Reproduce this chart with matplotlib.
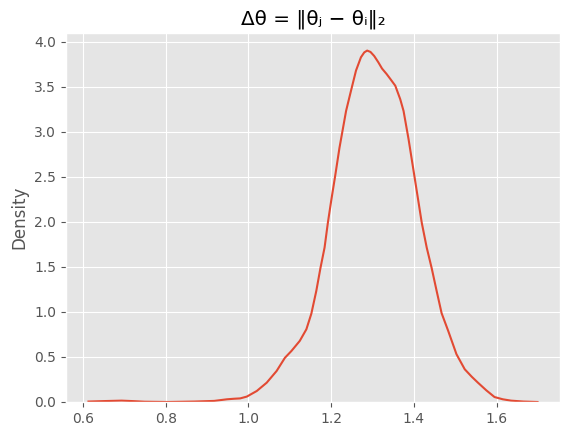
import matplotlib
matplotlib.use("Agg")
import matplotlib.pyplot as plt

# density curve (x = delta theta, y = density)
x_vals = [0.613, 0.65, 0.693, 0.72, 0.749, 0.805, 0.869, 0.917, 0.948, 0.965,
          0.980, 0.996, 1.020, 1.044, 1.068, 1.088, 1.104, 1.124, 1.140, 1.152,
          1.164, 1.174, 1.184, 1.192, 1.200, 1.210, 1.220, 1.236, 1.248, 1.260,
          1.272, 1.280, 1.287, 1.295, 1.304, 1.314, 1.323, 1.334, 1.343, 1.355,
          1.367, 1.375, 1.387, 1.403, 1.419, 1.431, 1.443, 1.455, 1.467, 1.483,
          1.503, 1.523, 1.540, 1.555, 1.575, 1.595, 1.615, 1.635, 1.665, 1.699]
dens = [0.005, 0.01, 0.015, 0.01, 0.003, 0.0, 0.005, 0.012, 0.03, 0.036,
        0.04, 0.06, 0.122, 0.214, 0.344, 0.49, 0.567, 0.678, 0.807, 0.98,
        1.233, 1.486, 1.714, 1.99, 2.233, 2.52, 2.82, 3.23, 3.456, 3.678,
        3.826, 3.88, 3.90, 3.885, 3.84, 3.77, 3.70, 3.64, 3.585, 3.51,
        3.36, 3.23, 2.92, 2.456, 1.99, 1.714, 1.486, 1.233, 0.986, 0.789,
        0.53, 0.363, 0.28, 0.214, 0.13, 0.055, 0.03, 0.015, 0.005, 0.0]

plt.style.use('ggplot')
fig = plt.figure(figsize=(5.71, 4.36), dpi=100)
ax = fig.add_subplot(111)
fig.subplots_adjust(left=0.1156, right=0.9807, top=0.9243, bottom=0.078)

ax.plot(x_vals, dens, '-', color='#E24A33', linewidth=1.5)
ax.set_ylim(bottom=0)
ax.set_ylabel('Density')
ax.set_title('Δθ = ‖θⱼ − θᵢ‖₂')

plt.savefig("out.png", dpi=100)
